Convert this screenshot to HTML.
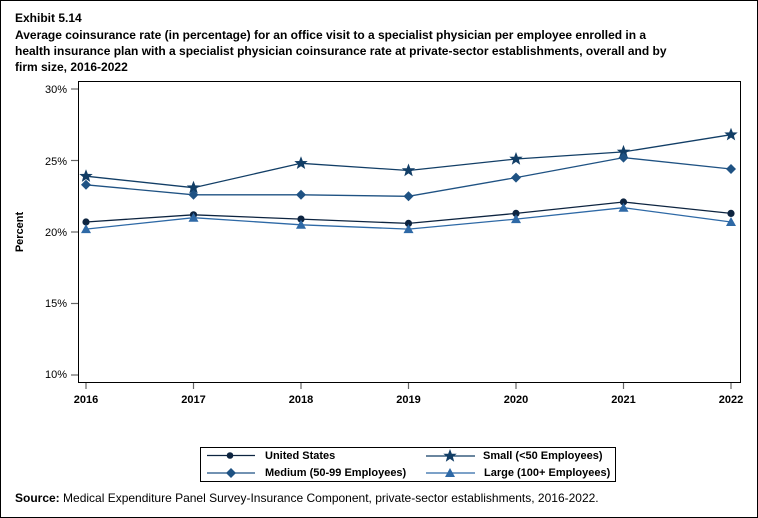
<!DOCTYPE html>
<html><head><style>
body{margin:0;background:#fff;}
svg{display:block;font-family:"Liberation Sans",Arial,sans-serif;}
</style></head><body>
<svg width="758" height="518" viewBox="0 0 758 518" xmlns="http://www.w3.org/2000/svg">
<rect x="0.5" y="0.5" width="757" height="517" fill="#fff" stroke="#000"/>
<text x="15" y="22" font-size="12" font-weight="bold">Exhibit 5.14</text>
<text x="15" y="39" font-size="12" font-weight="bold">Average coinsurance rate (in percentage) for an office visit to a specialist physician per employee enrolled in a</text>
<text x="15" y="55" font-size="12" font-weight="bold">health insurance plan with a specialist physician coinsurance rate at private-sector establishments, overall and by</text>
<text x="15" y="71" font-size="12" font-weight="bold">firm size, 2016-2022</text>
<rect x="78.5" y="81.5" width="662" height="301" fill="none" stroke="#000"/>
<g font-size="11" text-anchor="end" fill="#000">
<text x="67" y="93">30%</text><text x="67" y="165">25%</text><text x="67" y="236">20%</text><text x="67" y="307">15%</text><text x="67" y="378">10%</text>
</g>
<g stroke="#666" stroke-width="1.2">
<line x1="71" x2="78" y1="89" y2="89"/><line x1="71" x2="78" y1="160.5" y2="160.5"/><line x1="71" x2="78" y1="232" y2="232"/><line x1="71" x2="78" y1="303.5" y2="303.5"/><line x1="71" x2="78" y1="375" y2="375"/>
<line x1="86" x2="86" y1="383" y2="389"/><line x1="193.5" x2="193.5" y1="383" y2="389"/><line x1="301" x2="301" y1="383" y2="389"/><line x1="408.5" x2="408.5" y1="383" y2="389"/><line x1="516" x2="516" y1="383" y2="389"/><line x1="623.5" x2="623.5" y1="383" y2="389"/><line x1="731" x2="731" y1="383" y2="389"/>
</g>
<g font-size="11" font-weight="bold" text-anchor="middle">
<text x="86" y="403">2016</text><text x="193.5" y="403">2017</text><text x="301" y="403">2018</text><text x="408.5" y="403">2019</text><text x="516" y="403">2020</text><text x="623.5" y="403">2021</text><text x="731" y="403">2022</text>
</g>
<text transform="translate(23,232) rotate(-90)" font-size="11" font-weight="bold" text-anchor="middle">Percent</text>
<defs>
<path id="star" d="M0,-7 L1.8,-2.3 6.7,-2.2 2.9,0.9 4.2,5.7 0,2.9 -4.2,5.7 -2.9,0.9 -6.7,-2.2 -1.8,-2.3Z"/>
<path id="dia" d="M0,-5 L5,0 0,5 -5,0Z"/>
<path id="tri" d="M0,-5 L5,4 -5,4Z"/>
</defs>
<!-- Small -->
<polyline fill="none" stroke="#123e66" stroke-width="1.3" points="86,176.2 193.5,187.7 301,163.3 408.5,170.5 516,159 623.5,151.9 731,134.7"/>
<g fill="#123e66"><use href="#star" x="86" y="176.2"/><use href="#star" x="193.5" y="187.7"/><use href="#star" x="301" y="163.3"/><use href="#star" x="408.5" y="170.5"/><use href="#star" x="516" y="159"/><use href="#star" x="623.5" y="151.9"/><use href="#star" x="731" y="134.7"/></g>
<!-- Medium -->
<polyline fill="none" stroke="#1f5283" stroke-width="1.3" points="86,184.8 193.5,194.8 301,194.8 408.5,196.3 516,177.6 623.5,157.6 731,169"/>
<g fill="#1f5283"><use href="#dia" x="86" y="184.8"/><use href="#dia" x="193.5" y="194.8"/><use href="#dia" x="301" y="194.8"/><use href="#dia" x="408.5" y="196.3"/><use href="#dia" x="516" y="177.6"/><use href="#dia" x="623.5" y="157.6"/><use href="#dia" x="731" y="169"/></g>
<!-- US -->
<polyline fill="none" stroke="#0d2440" stroke-width="1.3" points="86,222 193.5,214.8 301,219.1 408.5,223.4 516,213.4 623.5,202 731,213.4"/>
<g fill="#0d2440"><circle cx="86" cy="222" r="3.6"/><circle cx="193.5" cy="214.8" r="3.6"/><circle cx="301" cy="219.1" r="3.6"/><circle cx="408.5" cy="223.4" r="3.6"/><circle cx="516" cy="213.4" r="3.6"/><circle cx="623.5" cy="202" r="3.6"/><circle cx="731" cy="213.4" r="3.6"/></g>
<!-- Large -->
<polyline fill="none" stroke="#2e69a6" stroke-width="1.3" points="86,229.1 193.5,217.7 301,224.8 408.5,229.1 516,219.1 623.5,207.7 731,222"/>
<g fill="#2e69a6"><use href="#tri" x="86" y="229.1"/><use href="#tri" x="193.5" y="217.7"/><use href="#tri" x="301" y="224.8"/><use href="#tri" x="408.5" y="229.1"/><use href="#tri" x="516" y="219.1"/><use href="#tri" x="623.5" y="207.7"/><use href="#tri" x="731" y="222"/></g>
<!-- Legend -->
<rect x="200.5" y="447.5" width="415" height="34" fill="#fff" stroke="#000"/>
<g stroke-width="1.3">
<line x1="207" x2="255" y1="455.5" y2="455.5" stroke="#0d2440"/><circle cx="230" cy="455.5" r="3.3" fill="#0d2440"/>
<line x1="207" x2="255" y1="473" y2="473" stroke="#1f5283"/><use href="#dia" x="231" y="473" fill="#1f5283"/>
<line x1="426" x2="475" y1="456" y2="456" stroke="#123e66"/><use href="#star" x="450" y="456" fill="#123e66"/>
<line x1="426" x2="475" y1="473" y2="473" stroke="#2e69a6"/><use href="#tri" x="450" y="473" fill="#2e69a6"/>
</g>
<g font-size="11" font-weight="bold">
<text x="265" y="459">United States</text>
<text x="265" y="476">Medium (50-99 Employees)</text>
<text x="483" y="459">Small (&lt;50 Employees)</text>
<text x="484" y="476">Large (100+ Employees)</text>
</g>
<text x="15" y="502" font-size="12"><tspan font-weight="bold">Source:</tspan> Medical Expenditure Panel Survey-Insurance Component, private-sector establishments, 2016-2022.</text>
</svg>
</body></html>
